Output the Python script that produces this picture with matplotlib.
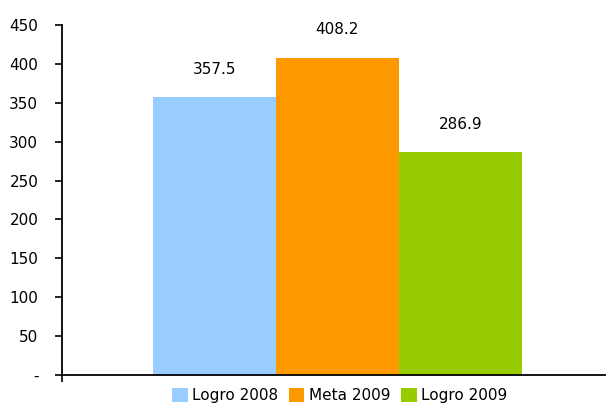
"""Bar chart: Logro 2008 vs Meta 2009 vs Logro 2009."""

import matplotlib

matplotlib.use("Agg")
import matplotlib.pyplot as plt
import numpy as np

series = ["Logro 2008", "Meta 2009", "Logro 2009"]
values = [357.5, 408.2, 286.9]
colors = ["#99CCFF", "#FF9900", "#99CC00"]
y_ticks = [0, 50, 100, 150, 200, 250, 300, 350, 400, 450]
y_tick_labels = ["-", "50", "100", "150", "200", "250", "300", "350", "400", "450"]

fig = plt.figure(figsize=(6.07, 4.11), dpi=100)
ax = fig.add_axes([0.102, 0.088, 0.895, 0.851])

group_width = 0.68
bar_w = group_width / len(series)
offsets = (np.arange(len(series)) - (len(series) - 1) / 2) * bar_w
for off, val, col, name in zip(offsets, values, colors, series):
    ax.bar(off, val, width=bar_w, color=col, label=name, zorder=2)
    ax.annotate(
        f"{val:.1f}",
        xy=(off, val),
        xytext=(0, 20),
        textcoords="offset points",
        ha="center",
        va="center",
        fontsize=11,
    )

ax.set_xlim(-0.507, 0.493)
ax.set_ylim(0, 450)
ax.set_yticks(y_ticks)
ax.set_yticklabels(y_tick_labels, fontsize=11)
ax.set_xticks([-0.507])
ax.set_xticklabels([])
ax.tick_params(axis="y", direction="out", length=5, width=1.2, pad=12)
ax.tick_params(axis="x", direction="out", length=5, width=1.2)
for side in ("top", "right"):
    ax.spines[side].set_visible(False)
for side in ("left", "bottom"):
    ax.spines[side].set_linewidth(1.3)

fig.legend(
    loc="lower center",
    bbox_to_anchor=(0.56, -0.015),
    ncol=3,
    frameon=False,
    fontsize=11,
    handlelength=1.0,
    handleheight=1.0,
    handletextpad=0.3,
    columnspacing=0.7,
)

fig.savefig("out.png", dpi=100)
